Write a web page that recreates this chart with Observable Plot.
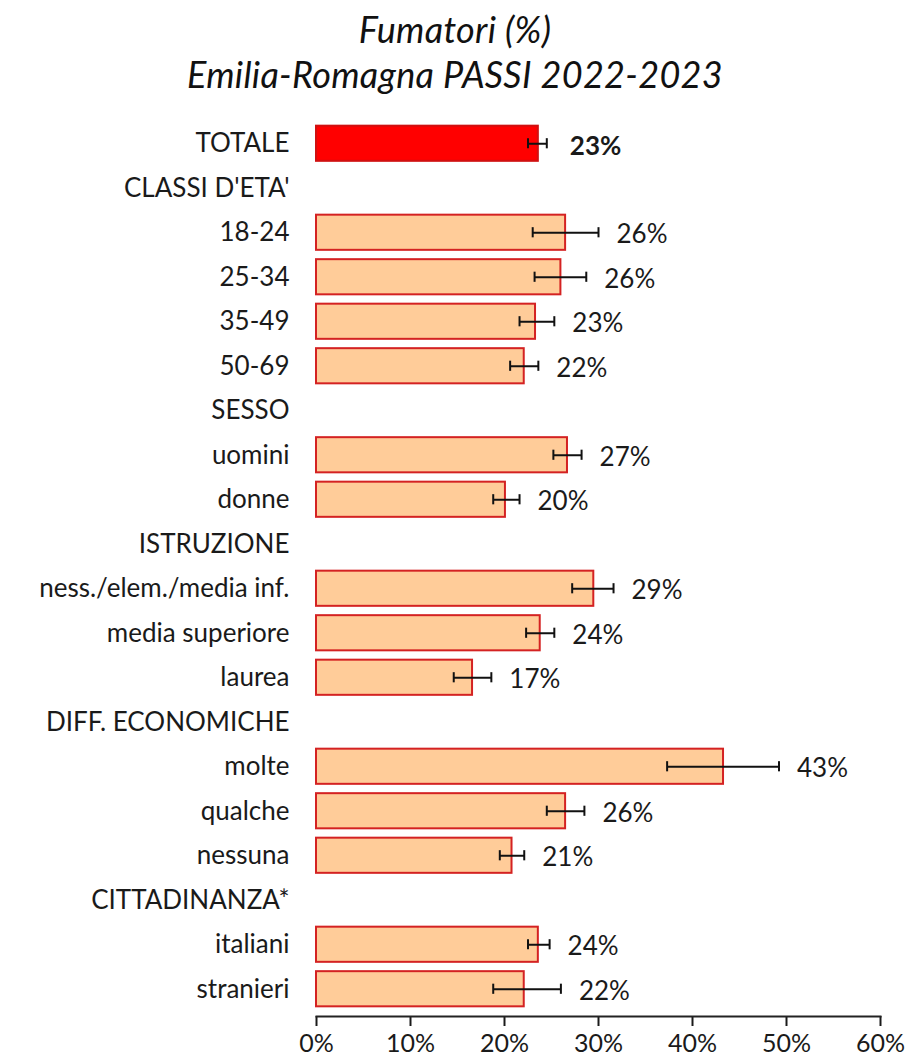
<!DOCTYPE html>
<html>
<head>
<meta charset="utf-8">
<script src="https://cdn.jsdelivr.net/npm/d3@7"></script>
<script src="https://cdn.jsdelivr.net/npm/@observablehq/plot@0.6"></script>
<style>
  html, body { margin: 0; padding: 0; background: #fff; }
  #title { width: 910px; height: 100px; overflow: hidden; text-align: center; font-family: Lato, "Open Sans", sans-serif; font-style: italic; font-size: 36px; line-height: 45px; color: #111; padding-top: 7px; box-sizing: border-box; letter-spacing: 0.3px; }
  #chart svg { display: block; }
</style>
</head>
<body>
<div id="title">Fumatori (%)<br>Emilia-Romagna PASSI 2022-2023</div>
<div id="chart"></div>
<script>
const categories = ["TOTALE","CLASSI D'ETA'","18-24","25-34","35-49","50-69","SESSO","uomini","donne","ISTRUZIONE","ness./elem./media inf.","media superiore","laurea","DIFF. ECONOMICHE","molte","qualche","nessuna","CITTADINANZA*","italiani","stranieri"];
const values = [23.6,null,26.5,26.0,23.3,22.1,null,26.7,20.1,null,29.5,23.8,16.6,null,43.3,26.5,20.8,null,23.6,22.1];
const lower  = [22.5,null,23.0,23.2,21.6,20.6,null,25.2,18.8,null,27.2,22.3,14.6,null,37.3,24.5,19.5,null,22.5,18.8];
const upper  = [24.5,null,30.0,28.7,25.3,23.6,null,28.2,21.6,null,31.6,25.3,18.6,null,49.2,28.5,22.1,null,24.8,26.0];
const valueLabels = ["23%",null,"26%","26%","23%","22%",null,"27%","20%",null,"29%","24%","17%",null,"43%","26%","21%",null,"24%","22%"];
const xTicks = [0,10,20,30,40,50,60];

const rows = categories.map((c,i) => ({cat: c, v: values[i], lo: lower[i], hi: upper[i], lab: valueLabels[i], total: i === 0}));
const bars = rows.filter(d => d.v != null);

const chart = Plot.plot({
  width: 910,
  height: 963,
  marginLeft: 316,
  marginRight: 30,
  marginTop: 21,
  marginBottom: 47,
  style: {fontFamily: "Lato, 'Open Sans', sans-serif", fontSize: "26px", color: "#1a1a1a", background: "#fff"},
  x: {domain: [0, 60], label: null},
  y: {domain: categories, paddingInner: 0.21, paddingOuter: 0.105, insetBottom: 5, round: false, label: null},
  marks: [
    Plot.barX(bars, {y: "cat", x: "v", fill: d => d.total ? "#FF0000" : "#FFCC99", stroke: d => d.total ? "#D01010" : "#D42222", strokeWidth: 2}),
    Plot.link(bars, {y1: "cat", y2: "cat", x1: "lo", x2: "hi", stroke: "#111", strokeWidth: 2}),
    Plot.tickX(bars, {y: "cat", x: "lo", stroke: "#111", strokeWidth: 2, insetTop: 12.5, insetBottom: 12.5}),
    Plot.tickX(bars, {y: "cat", x: "hi", stroke: "#111", strokeWidth: 2, insetTop: 12.5, insetBottom: 12.5}),
    Plot.text(bars.filter(d => !d.total), {y: "cat", x: "hi", text: "lab", dx: 18, dy: 2, textAnchor: "start", fontSize: 26, fill: "#1a1a1a"}),
    Plot.text(bars.filter(d => d.total), {y: "cat", x: "hi", text: "lab", dx: 23, dy: 3, textAnchor: "start", fontSize: 26, fontWeight: "bold", fill: "#1a1a1a"}),
    Plot.axisY({tickSize: 0, tickPadding: 27, fontSize: 26, label: null}),
    Plot.axisX({anchor: "bottom", ticks: xTicks, tickSize: 10, tickPadding: 8, tickFormat: d => d + "%", fontSize: 25, label: null, strokeWidth: 2}),
    Plot.frame({anchor: "bottom", strokeWidth: 2, stroke: "#222"})
  ]
});
document.getElementById("chart").appendChild(chart);
</script>
</body>
</html>
